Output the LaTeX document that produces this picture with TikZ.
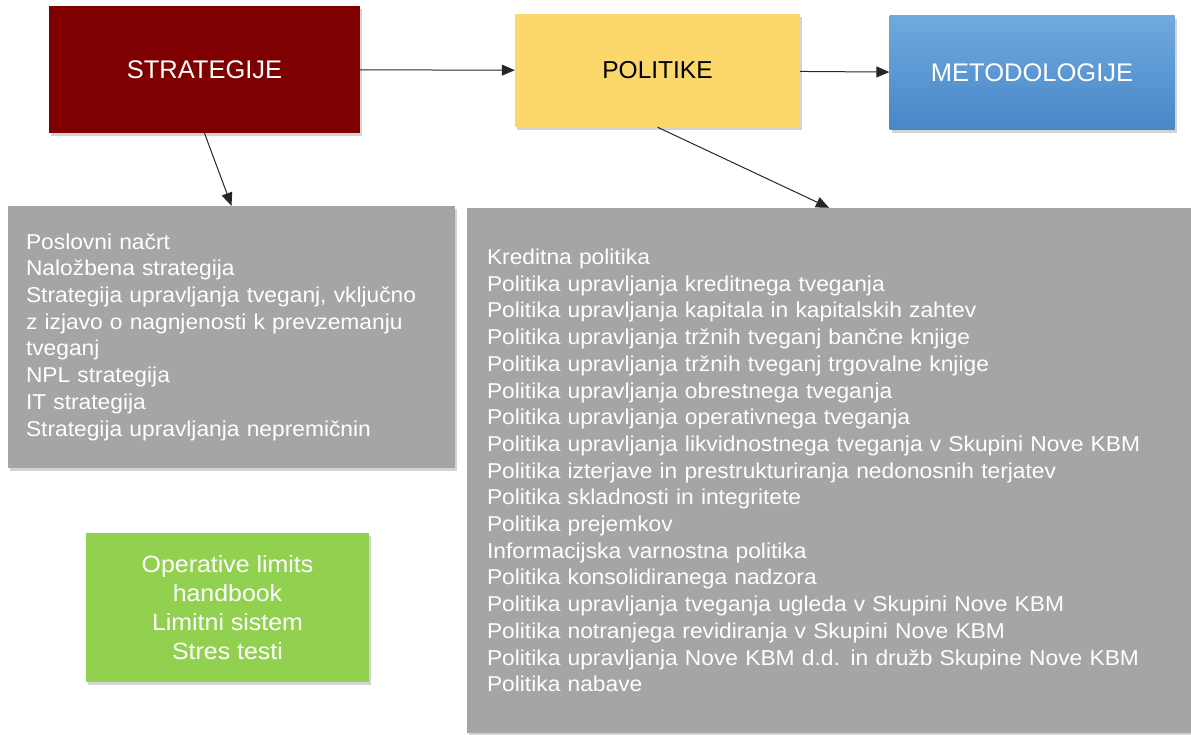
\documentclass[tikz,border=0pt]{standalone}
\usepackage{fontspec}
\setmainfont{Liberation Sans}
\newfontfamily\widesans[FakeStretch=1.06]{Liberation Sans}
\usepackage{tikz}
\usetikzlibrary{arrows.meta, positioning, shadows}
\definecolor{stratred}{HTML}{7F0000}
\definecolor{polyellow}{HTML}{FCD86A}
\definecolor{mettop}{HTML}{70A9DE}
\definecolor{metbot}{HTML}{4787C8}
\definecolor{listgray}{HTML}{A5A5A5}
\definecolor{limgreen}{HTML}{92D050}
\tikzstyle{block}  = [rectangle, inner sep=0pt, text=white,
                      font=\fontsize{25.5}{29}\selectfont,
                      drop shadow={opacity=0.35, shadow xshift=2pt, shadow yshift=-3pt}]
\tikzstyle{rblock} = [block, fill=stratred]
\tikzstyle{yblock} = [block, fill=polyellow, text=black, font=\fontsize{24.5}{29}\selectfont]
\tikzstyle{bblock} = [block, top color=mettop, bottom color=metbot]
\tikzstyle{lblock} = [block, fill=listgray, align=left,
                      font=\widesans\fontsize{21.5}{26.7}\selectfont]
\tikzstyle{gblock} = [block, fill=limgreen, align=center,
                      font=\widesans\fontsize{23.5}{29}\selectfont]
\tikzstyle{arrow}  = [-{Triangle[length=13pt, width=11pt]}, line width=1pt, draw=black!85]

\begin{document}
\begin{tikzpicture}[x=1pt, y=-1pt]
  \useasboundingbox (0,0) rectangle (1191,735);

  \node[rblock, minimum width=311pt, minimum height=127pt] (strat) at (204.5,69.5)
    {STRATEGIJE};
  \node[yblock, minimum width=285pt, minimum height=113pt] (pol) at (657.5,70.5)
    {POLITIKE};
  \node[bblock, minimum width=285pt, minimum height=114pt] (met) at (1032,73)
    {METODOLOGIJE};

  \node[lblock, minimum width=447pt, minimum height=262pt, inner xsep=18pt,
        text width=411pt] (strlist) at (231.5,337)
    {Poslovni načrt\\
     Naložbena strategija\\
     Strategija upravljanja tveganj, vključno\\
     z izjavo o nagnjenosti k prevzemanju\\
     tveganj\\
     NPL strategija\\
     IT strategija\\
     Strategija upravljanja nepremičnin};

  \node[lblock, minimum width=724pt, minimum height=525pt, inner xsep=20pt,
        text width=684pt] (pollist) at (829,470.5)
    {Kreditna politika\\
     Politika upravljanja kreditnega tveganja\\
     Politika upravljanja kapitala in kapitalskih zahtev\\
     Politika upravljanja tržnih tveganj bančne knjige\\
     Politika upravljanja tržnih tveganj trgovalne knjige\\
     Politika upravljanja obrestnega tveganja\\
     Politika upravljanja operativnega tveganja\\
     Politika upravljanja likvidnostnega tveganja v Skupini Nove KBM\\
     Politika izterjave in prestrukturiranja nedonosnih terjatev\\
     Politika skladnosti in integritete\\
     Politika prejemkov\\
     Informacijska varnostna politika\\
     Politika konsolidiranega nadzora\\
     Politika upravljanja tveganja ugleda v Skupini Nove KBM\\
     Politika notranjega revidiranja v Skupini Nove KBM\\
     Politika upravljanja Nove KBM d.d. in družb Skupine Nove KBM\\
     Politika nabave};

  \node[gblock, minimum width=283pt, minimum height=149pt] (limits) at (227.5,607.5)
    {Operative limits\\ handbook\\ Limitni sistem\\ Stres testi};

  \draw[arrow] (strat) -- (pol);
  \draw[arrow] (pol) -- (met);
  \draw[arrow] (strat.south) -- (strlist.north);
  \draw[arrow] (pol.south) -- (pollist.north);
\end{tikzpicture}
\end{document}
